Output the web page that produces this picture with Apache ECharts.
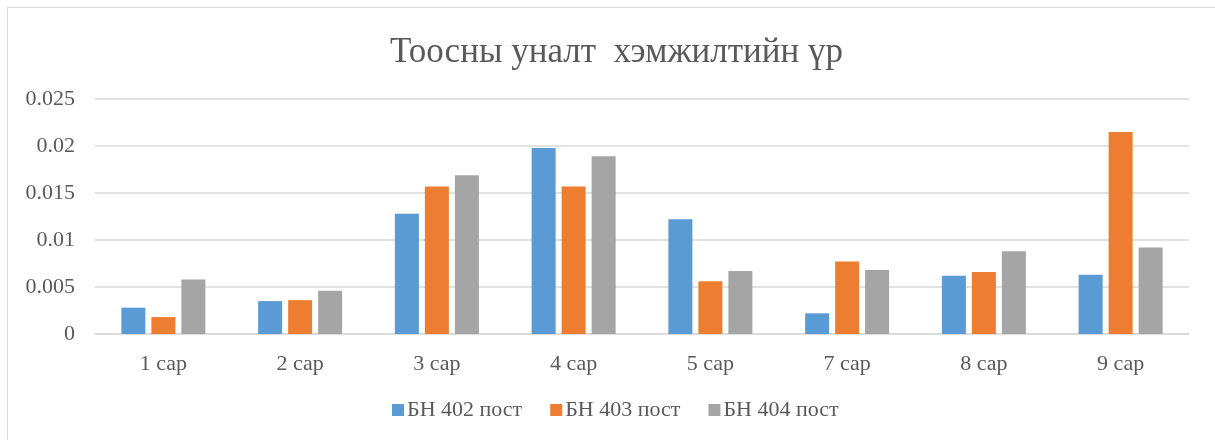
<!DOCTYPE html>
<html><head><meta charset="utf-8">
<script src="https://cdn.jsdelivr.net/npm/echarts@6/dist/echarts.min.js"></script>
<style>
html,body{margin:0;padding:0;background:#fff;overflow:hidden;}
#frame{position:absolute;left:7px;top:7px;width:1400px;height:600px;border-left:1.5px solid #d9d9d9;border-top:1.5px solid #d9d9d9;}
#c{position:absolute;left:0;top:0;width:1215px;height:440px;}
</style></head>
<body>
<div id="frame"></div>
<div id="c"></div>
<script>
const titleText = 'Тоосны уналт  хэмжилтийн үр';
const categories = ['1 сар','2 сар','3 сар','4 сар','5 сар','7 сар','8 сар','9 сар'];
const seriesNames = ['БН 402 пост','БН 403 пост','БН 404 пост'];
const bn402 = [0.0028,0.0035,0.0128,0.0198,0.0122,0.0022,0.0062,0.0063];
const bn403 = [0.0018,0.0036,0.0157,0.0157,0.0056,0.0077,0.0066,0.0215];
const bn404 = [0.0058,0.0046,0.0169,0.0189,0.0067,0.0068,0.0088,0.0092];
const yTicks = ['0','0.005','0.01','0.015','0.02','0.025'];
const colors = ['#5B9BD5','#ED7D31','#A5A5A5'];
const font = '"Liberation Serif", "Times New Roman", serif';

const chart = echarts.init(document.getElementById('c'), null, {renderer:'canvas'});
const data = [bn402, bn403, bn404];
chart.setOption({
  animation:false,
  color: colors,
  title:{text:titleText,left:385,top:30,textStyle:{fontFamily:font,fontSize:35,fontWeight:'normal',color:'#595959'}},
  legend:{bottom:14,left:387,itemWidth:12,itemHeight:12,itemGap:28,icon:'rect',
    textStyle:{fontFamily:font,fontSize:22,color:'#595959',padding:[0,0,0,-2]},data:seriesNames},
  grid:{left:95,right:26,top:99,bottom:106},
  xAxis:{type:'category',data:categories,
    axisLine:{lineStyle:{color:'#d9d9d9',width:1.5}},axisTick:{show:false},
    axisLabel:{fontFamily:font,fontSize:22,color:'#595959',margin:19}},
  yAxis:{type:'value',min:0,max:0.025,interval:0.005,
    axisLine:{show:false},axisTick:{show:false},
    splitLine:{lineStyle:{color:'#d9d9d9',width:1.5}},
    axisLabel:{fontFamily:font,fontSize:22,color:'#595959',margin:20,
      formatter:(v)=>{const i=Math.round(v/0.005);return yTicks[i]!==undefined?yTicks[i]:'';}}},
  series: seriesNames.map((n,i)=>({name:n,type:'bar',data:data[i],barWidth:24,barGap:'25%'}))
});
</script>
</body></html>
